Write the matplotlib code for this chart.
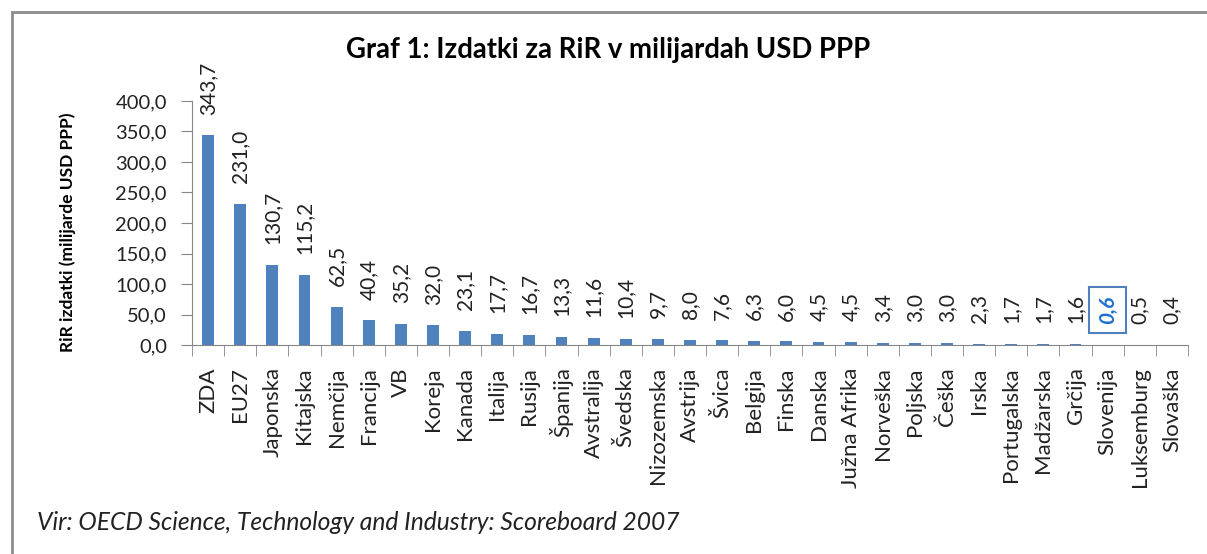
import matplotlib.pyplot as plt
from matplotlib.patches import Rectangle
import numpy as np

# podatki
countries = ['ZDA', 'EU27', 'Japonska', 'Kitajska', 'Nemčija', 'Francija', 'VB', 'Koreja',
             'Kanada', 'Italija', 'Rusija', 'Španija', 'Avstralija', 'Švedska', 'Nizozemska',
             'Avstrija', 'Švica', 'Belgija', 'Finska', 'Danska', 'Južna Afrika', 'Norveška',
             'Poljska', 'Češka', 'Irska', 'Portugalska', 'Madžarska', 'Grčija', 'Slovenija',
             'Luksemburg', 'Slovaška']
values = [343.7, 231.0, 130.7, 115.2, 62.5, 40.4, 35.2, 32.0, 23.1, 17.7, 16.7, 13.3, 11.6,
          10.4, 9.7, 8.0, 7.6, 6.3, 6.0, 4.5, 4.5, 3.4, 3.0, 3.0, 2.3, 1.7, 1.7, 1.6, 0.6,
          0.5, 0.4]
yticks = [0, 50, 100, 150, 200, 250, 300, 350, 400]
highlight = 'Slovenija'

plt.rcParams['font.family'] = ['Lato', 'DejaVu Sans']

fig = plt.figure(figsize=(12.07, 5.54), dpi=100)
ax = fig.add_axes([192/1207, 1-345/554, (1188-192)/1207, (345-101)/554])

x = np.arange(len(countries))
ax.bar(x, values, width=0.37, color='#4F81BD')

ax.set_xlim(-0.5, len(countries)-0.5)
ax.set_ylim(0, 400)
ax.set_yticks(yticks)
ax.set_yticklabels([('%.1f' % v).replace('.', ',') for v in yticks], color='#222222', fontsize=14.5)
ax.set_xticks(x)
ax.set_xticklabels(countries, rotation=90, color='#222222', fontsize=16)
ax.set_xticks(np.arange(len(countries)+1)-0.5, minor=True)
ax.tick_params(axis='x', which='major', length=0, pad=16)
ax.tick_params(axis='x', which='minor', length=8, color='#868686', direction='out')
ax.tick_params(axis='y', length=8, color='#868686', pad=10)

for s in ['top', 'right']:
    ax.spines[s].set_visible(False)
for s in ['left', 'bottom']:
    ax.spines[s].set_color('#868686')

for xi, v, c in zip(x, values, countries):
    lbl = ('%.1f' % v).replace('.', ',')
    if c == highlight:
        ax.annotate(lbl, (xi, v), xytext=(0, 15), textcoords='offset points',
                    rotation=90, ha='center', va='bottom', fontsize=15,
                    color='#1F6FD0', fontweight='bold', style='italic',
                    bbox=dict(boxstyle='square,pad=0.42', fc='white', ec='#4F81BD', lw=1.5))
    else:
        ax.annotate(lbl, (xi, v), xytext=(0, 15), textcoords='offset points',
                    rotation=90, ha='center', va='bottom', fontsize=15, color='#222222')

fig.text(68/1207, 1-232/554, 'RiR izdatki (milijarde USD PPP)', rotation=90,
         ha='center', va='center', fontsize=12.5, fontweight='bold')

fig.text(608/1207, 1-50/554, 'Graf 1: Izdatki za RiR v milijardah USD PPP',
         ha='center', va='center', fontsize=19.8, fontweight='bold')
fig.text(37/1207, 1-522/554, 'Vir: OECD Science, Technology and Industry: Scoreboard 2007',
         ha='left', va='center', fontsize=17.7, style='italic', color='#222222')

# okvir
fig.patches.append(Rectangle((12/1207, -0.1), 1.2, 1-12/554+0.1, transform=fig.transFigure,
                             fill=False, ec='#8C8C8C', lw=2))

fig.savefig('out.png', dpi=100)
